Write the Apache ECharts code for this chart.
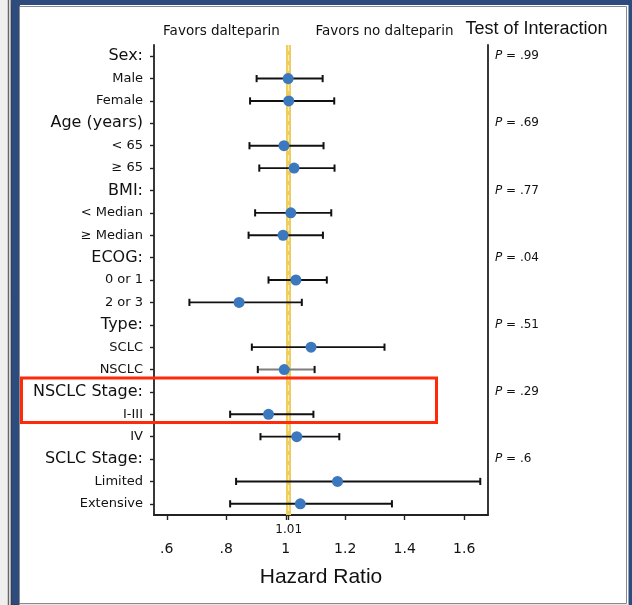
<!DOCTYPE html>
<html>
<head>
<meta charset="utf-8">
<script src="https://cdn.jsdelivr.net/npm/echarts@6.0.0/dist/echarts.min.js"></script>
<style>
  html, body { margin: 0; padding: 0; background: #fff; }
  #chart-container { width: 632px; height: 605px; }
</style>
</head>
<body>
<div id="chart-container"></div>
<script>
const categories = ['Sex:', 'Male', 'Female', 'Age (years)', '< 65', '≥ 65', 'BMI:', '< Median', '≥ Median',
  'ECOG:', '0 or 1', '2 or 3', 'Type:', 'SCLC', 'NSCLC', 'NSCLC Stage:', 'I-III', 'IV',
  'SCLC Stage:', 'Limited', 'Extensive'];
const hazardRatio = [null, 1.008, 1.010, null, 0.994, 1.028, null, 1.017, 0.991, null, 1.034, 0.843,
  null, 1.085, 0.995, null, 0.942, 1.037, null, 1.174, 1.049];
const ciLower = [null, 0.902, 0.880, null, 0.878, 0.911, null, 0.897, 0.875, null, 0.942, 0.676,
  null, 0.886, 0.906, null, 0.813, 0.915, null, 0.833, 0.813];
const ciUpper = [null, 1.124, 1.163, null, 1.127, 1.164, null, 1.153, 1.125, null, 1.138, 1.054,
  null, 1.332, 1.097, null, 1.093, 1.180, null, 1.654, 1.357];
const pValues = ['.99', '', '', '.69', '', '', '.77', '', '', '.04', '', '', '.51', '', '',
  '.29', '', '', '.6', '', ''];
const xTicks = [0.6, 0.8, 1, 1.2, 1.4, 1.6];
const refValue = 1.01;

const dom = document.getElementById('chart-container');
const myChart = window.echarts.init(dom, null, { renderer: 'canvas' });

const blue = '#2d4b7c';
const fmtTick = (v) => String(v).replace(/^0\./, '.');

const barData = [];
const pointData = [];
categories.forEach((c, i) => {
  if (hazardRatio[i] == null) return;
  barData.push([ciLower[i], ciUpper[i], i]);
  pointData.push([hazardRatio[i], i]);
});

const renderBar = (params, api) => {
  const row = api.value(2);
  const p1 = api.coord([api.value(0), row]);
  const p2 = api.coord([api.value(1), row]);
  const gray = categories[row] === 'NSCLC';
  const style = { stroke: gray ? '#7d7d7d' : '#111', lineWidth: 1.9 };
  const cap = { stroke: '#111', lineWidth: 2 };
  const h = 3.6;
  return {
    type: 'group',
    children: [
      { type: 'line', shape: { x1: p1[0], y1: p1[1], x2: p2[0], y2: p2[1] }, style },
      { type: 'line', shape: { x1: p1[0], y1: p1[1] - h, x2: p1[0], y2: p1[1] + h }, style: cap },
      { type: 'line', shape: { x1: p2[0], y1: p2[1] - h, x2: p2[0], y2: p2[1] + h }, style: cap }
    ]
  };
};

const option = {
  animation: false,
  backgroundColor: '#fff',
  textStyle: { fontFamily: 'DejaVu Sans', color: '#111' },
  grid: { left: 154, right: 144, top: 45, bottom: 90 },
  xAxis: [
    {
      type: 'value',
      min: 0.557,
      max: 1.68,
      splitLine: { show: false },
      axisLine: { show: true, lineStyle: { color: '#222', width: 1.8 } },
      axisTick: { show: true, length: 5, customValues: xTicks, lineStyle: { color: '#222', width: 1.4 } },
      axisLabel: { customValues: xTicks, formatter: fmtTick, fontSize: 14, color: '#111', margin: 27 },
      name: 'Hazard Ratio',
      nameLocation: 'middle',
      nameGap: 52,
      nameTextStyle: { fontFamily: 'Liberation Sans', fontSize: 21, color: '#111' }
    },
    {
      type: 'value',
      position: 'bottom',
      min: 0.557,
      max: 1.68,
      splitLine: { show: false },
      axisLine: { show: false },
      axisTick: { show: true, length: 5, customValues: [refValue], lineStyle: { color: '#222', width: 1.4 } },
      axisLabel: { customValues: [refValue], fontSize: 12, color: '#111', margin: 9 }
    }
  ],
  yAxis: [
    {
      type: 'category',
      inverse: true,
      data: categories,
      axisLine: { show: true, lineStyle: { color: '#222', width: 1.8 } },
      axisTick: { show: true, length: 4, alignWithLabel: true, lineStyle: { color: '#222', width: 1.4 } },
      axisLabel: {
        margin: 11,
        interval: 0,
        formatter: (v, i) => (pValues[i] ? `{h|${v}}` : `{s|${v}}`),
        rich: {
          h: { fontSize: 16, color: '#111', fontFamily: 'DejaVu Sans' },
          s: { fontSize: 13, color: '#111', fontFamily: 'DejaVu Sans' }
        }
      },
      splitLine: { show: false }
    },
    {
      type: 'category',
      inverse: true,
      position: 'right',
      data: categories,
      axisLine: { show: true, lineStyle: { color: '#222', width: 1.8 } },
      axisTick: { show: false },
      axisLabel: {
        margin: 7,
        interval: 0,
        fontSize: 12,
        color: '#111',
        formatter: (v, i) => (pValues[i] ? `{i|P} = ${pValues[i]}` : ''),
        rich: { i: { fontStyle: 'italic', fontSize: 12, color: '#111' } }
      },
      splitLine: { show: false }
    }
  ],
  series: [
    {
      type: 'custom',
      renderItem: renderBar,
      xAxisIndex: 0,
      yAxisIndex: 0,
      dimensions: ['lo', 'hi', 'row'],
      encode: { x: [0, 1], y: 2 },
      data: barData,
      z: 3
    },
    {
      type: 'scatter',
      xAxisIndex: 0,
      yAxisIndex: 0,
      data: pointData,
      symbolSize: 11,
      itemStyle: { color: '#3c78bd', opacity: 1 },
      z: 4,
      markLine: {
        silent: true,
        symbol: 'none',
        z: 2,
        label: { show: false },
        data: [
          { xAxis: refValue, lineStyle: { color: '#efcd5a', width: 5, type: 'solid' } },
          { xAxis: refValue, lineStyle: { color: 'rgba(255,255,255,0.6)', width: 1.3, type: [6, 4] } }
        ]
      }
    }
  ],
  graphic: [
    { type: 'rect', shape: { x: 0, y: 0, width: 8, height: 605 }, style: { fill: '#efefef' }, z: 10 },
    { type: 'line', shape: { x1: 8.5, y1: 0, x2: 8.5, y2: 605 }, style: { stroke: '#666', lineWidth: 1.5 }, z: 10 },
    { type: 'rect', shape: { x: 11, y: 0, width: 8.5, height: 605 }, style: { fill: blue, stroke: '#333', lineWidth: 0.8 }, z: 10 },
    { type: 'rect', shape: { x: 11, y: 0, width: 621, height: 5 }, style: { fill: blue }, z: 10 },
    { type: 'rect', shape: { x: 628.5, y: 0, width: 4, height: 605 }, style: { fill: blue }, z: 10 },
    { type: 'rect', shape: { x: 19.5, y: 6.5, width: 607, height: 597 }, style: { fill: 'none', stroke: '#8a8a8a', lineWidth: 1 }, z: 10 },
    { type: 'rect', shape: { x: 19.5, y: 604, width: 609, height: 1 }, style: { fill: '#e4e4e4' }, z: 10 },
    {
      type: 'text', x: 221.5, y: 31, z: 10,
      style: { text: 'Favors dalteparin', fontSize: 13.5, fontFamily: 'DejaVu Sans', fill: '#111', align: 'center', verticalAlign: 'middle' }
    },
    {
      type: 'text', x: 384.5, y: 31, z: 10,
      style: { text: 'Favors no dalteparin', fontSize: 13.5, fontFamily: 'DejaVu Sans', fill: '#111', align: 'center', verticalAlign: 'middle' }
    },
    {
      type: 'text', x: 536.5, y: 29.5, z: 10,
      style: { text: 'Test of Interaction', fontSize: 18, fontFamily: 'Liberation Sans', fill: '#111', align: 'center', verticalAlign: 'middle' }
    },
    {
      type: 'rect', z: 11,
      shape: { x: 21.5, y: 378, width: 415, height: 44.5 },
      style: { fill: 'none', stroke: '#ff2a0a', lineWidth: 3 }
    }
  ]
};

myChart.setOption(option);
window.addEventListener('resize', myChart.resize);
</script>
</body>
</html>
